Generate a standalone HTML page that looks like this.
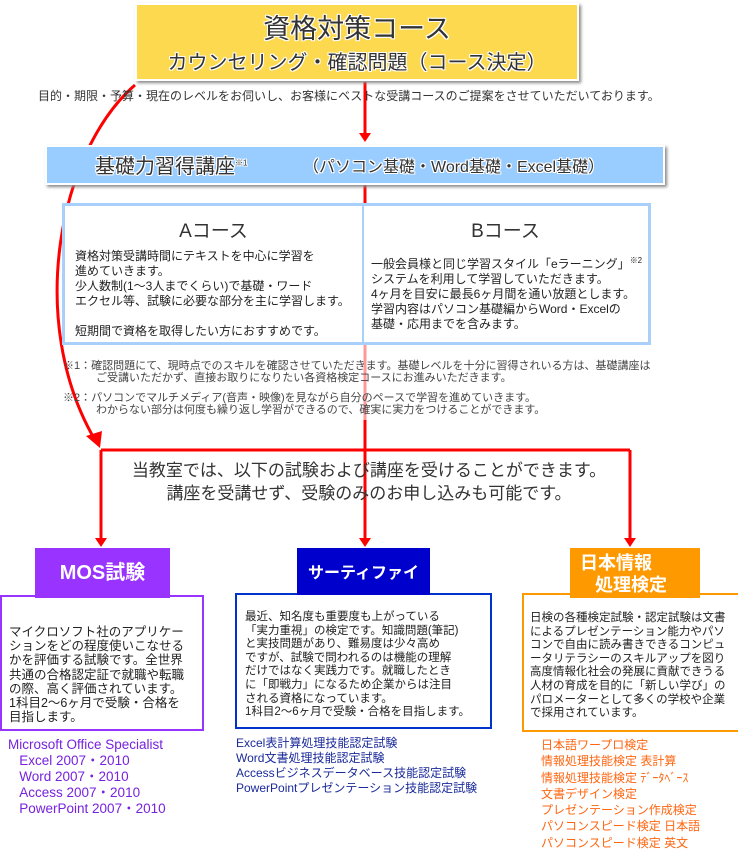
<!DOCTYPE html>
<html><head><meta charset="utf-8"><style>
body{margin:0;width:738px;height:847px;position:relative;background:#fff;font-family:"Liberation Sans","Noto Sans CJK JP",sans-serif;color:#222;overflow:hidden}
.a{position:absolute;white-space:nowrap}
.ol{color:#333;text-shadow:1px 0 #fff,-1px 0 #fff,0 1px #fff,0 -1px #fff,1px 1px #fff,-1px -1px #fff,1px -1px #fff,-1px 1px #fff}
.t{font-size:12px;line-height:15px}
.n{font-size:11px;line-height:12px;color:#444}
</style></head><body>
<svg class="a" style="left:0;top:0" width="738" height="847">
<path d="M365 82 V135" stroke="#f00" stroke-width="3"/>
<polygon points="359,133 371,133 365,142" fill="#f00"/>
<path d="M365 182 V205" stroke="#f00" stroke-width="3"/>
<path d="M365 343 V450" stroke="#f99" stroke-width="3"/>
<path d="M365 420 V545" stroke="#f00" stroke-width="3"/>
<path d="M135 85 C60 150 25 320 95 440" stroke="#f00" stroke-width="3" fill="none"/>
<polygon points="86,436 102,431 100,448" fill="#f00"/>
<path d="M101 450 H630 M101 450 V540 M630 450 V540" stroke="#f00" stroke-width="3" fill="none"/>
<polygon points="95,538 107,538 101,547" fill="#f00"/>
<polygon points="359,538 371,538 365,547" fill="#f00"/>
<polygon points="624,538 636,538 630,547" fill="#f00"/>
</svg>
<div class="a" style="left:135px;top:3px;width:440px;height:74px;background:#fcd94f;border:2px solid #fff;box-shadow:2px 2px 3px #888"></div>
<div class="a ol" style="left:135px;top:7px;width:444px;text-align:center;font-size:27px">資格対策コース</div>
<div class="a ol" style="left:135px;top:46px;width:444px;text-align:center;font-size:20px">カウンセリング・確認問題（コース決定）</div>
<div class="a" style="left:38px;top:87px;font-size:12px;color:#333">目的・期限・予算・現在のレベルをお伺いし、お客様にベストな受講コースのご提案をさせていただいております。</div>
<div class="a" style="left:45px;top:145px;width:616px;height:36px;background:#99ccff;border:2px solid #fff;box-shadow:2px 2px 3px #888"></div>
<div class="a ol" style="left:95px;top:150px;font-size:20px">基礎力習得講座<sup style="font-size:8px">※1</sup></div>
<div class="a ol" style="left:303px;top:153px;font-size:16px">（パソコン基礎・Word基礎・Excel基礎）</div>
<div class="a" style="left:62px;top:203px;width:583px;height:136px;border:3px solid #a8d0fa;background:#fff"></div>
<div class="a" style="left:362px;top:206px;width:2px;height:136px;background:#a8d0fa"></div>
<div class="a" style="left:65px;top:216px;width:297px;text-align:center;font-size:19px;color:#333">Aコース</div>
<div class="a" style="left:364px;top:216px;width:283px;text-align:center;font-size:19px;color:#333">Bコース</div>
<div class="a t" style="left:75px;top:249px">資格対策受講時間にテキストを中心に学習を<br>進めていきます。<br>少人数制(1～3人までくらい)で基礎・ワード<br>エクセル等、試験に必要な部分を主に学習します。<br><br>短期間で資格を取得したい方におすすめです。</div>
<div class="a t" style="left:371px;top:253px">一般会員様と同じ学習スタイル「eラーニング」<sup style="font-size:8px">※2</sup><br>システムを利用して学習していただきます。<br>4ヶ月を目安に最長6ヶ月間を通い放題とします。<br>学習内容はパソコン基礎編からWord・Excelの<br>基礎・応用までを含みます。</div>
<div class="a n" style="left:63px;top:360px">※1：確認問題にて、現時点でのスキルを確認させていただきます。基礎レベルを十分に習得されいる方は、基礎講座は<br>　　　ご受講いただかず、直接お取りになりたい各資格検定コースにお進みいただきます。</div>
<div class="a n" style="left:63px;top:392px">※2：パソコンでマルチメディア(音声・映像)を見ながら自分のペースで学習を進めていきます。<br>　　　わからない部分は何度も繰り返し学習ができるので、確実に実力をつけることができます。</div>
<div class="a" style="left:0;top:459px;width:738px;text-align:center;font-size:17px;line-height:23px;color:#333">当教室では、以下の試験および講座を受けることができます。<br>講座を受講せず、受験のみのお申し込みも可能です。</div>
<div class="a" style="left:0;top:595px;width:200px;height:132px;border:2px solid #9933ff"></div>
<div class="a" style="left:35px;top:548px;width:135px;height:50px;background:#9933ff;color:#fff;font-weight:bold;font-size:20px;line-height:50px;text-align:center">MOS試験</div>
<div class="a t" style="left:9px;top:625px;font-size:12.5px;line-height:14.2px">マイクロソフト社のアプリケー<br>ションをどの程度使いこなせる<br>かを評価する試験です。全世界<br>共通の合格認定証で就職や転職<br>の際、高く評価されています。<br>1科目2～6ヶ月で受験・合格を<br>目指します。</div>
<div class="a" style="left:235px;top:593px;width:253px;height:132px;border:2px solid #0033cc"></div>
<div class="a" style="left:297px;top:548px;width:133px;height:47px;background:#0000cc;color:#fff;font-weight:bold;font-size:16px;line-height:52px;text-align:center">サーティファイ</div>
<div class="a t" style="left:245px;top:611px;font-size:11.5px;line-height:13.6px">最近、知名度も重要度も上がっている<br>「実力重視」の検定です。知識問題(筆記)<br>と実技問題があり、難易度は少々高め<br>ですが、試験で問われるのは機能の理解<br>だけではなく実践力です。就職したとき<br>に「即戦力」になるため企業からは注目<br>される資格になっています。<br>1科目2～6ヶ月で受験・合格を目指します。</div>
<div class="a" style="left:522px;top:593px;width:214px;height:135px;border:2px solid #ff9900"></div>
<div class="a" style="left:570px;top:548px;width:130px;height:50px;background:#ff9900"></div>
<div class="a" style="left:580px;top:552px;color:#fff;font-weight:bold;font-size:18px;line-height:22px">日本情報<br>&nbsp;&nbsp;&nbsp;処理検定</div>
<div class="a t" style="left:530px;top:612px;font-size:11.5px;line-height:13.6px">日検の各種検定試験・認定試験は文書<br>によるプレゼンテーション能力やパソ<br>コンで自由に読み書きできるコンピュ<br>ータリテラシーのスキルアップを図り<br>高度情報化社会の発展に貢献できうる<br>人材の育成を目的に「新しい学び」の<br>パロメーターとして多くの学校や企業<br>で採用されています。</div>
<div class="a" style="left:8px;top:737px;font-size:13.5px;line-height:16px;color:#7722dd">Microsoft Office Specialist<br>&nbsp;&nbsp;&nbsp;Excel 2007・2010<br>&nbsp;&nbsp;&nbsp;Word 2007・2010<br>&nbsp;&nbsp;&nbsp;Access 2007・2010<br>&nbsp;&nbsp;&nbsp;PowerPoint 2007・2010</div>
<div class="a" style="left:236px;top:736px;font-size:12px;line-height:15px;color:#1a2a9a">Excel表計算処理技能認定試験<br>Word文書処理技能認定試験<br>Accessビジネスデータベース技能認定試験<br>PowerPointプレゼンテーション技能認定試験</div>
<div class="a" style="left:541px;top:737px;font-size:12px;line-height:16.3px;color:#ff6611">日本語ワープロ検定<br>情報処理技能検定 表計算<br>情報処理技能検定 ﾃﾞｰﾀﾍﾞｰｽ<br>文書デザイン検定<br>プレゼンテーション作成検定<br>パソコンスピード検定 日本語<br>パソコンスピード検定 英文</div>
</body></html>
